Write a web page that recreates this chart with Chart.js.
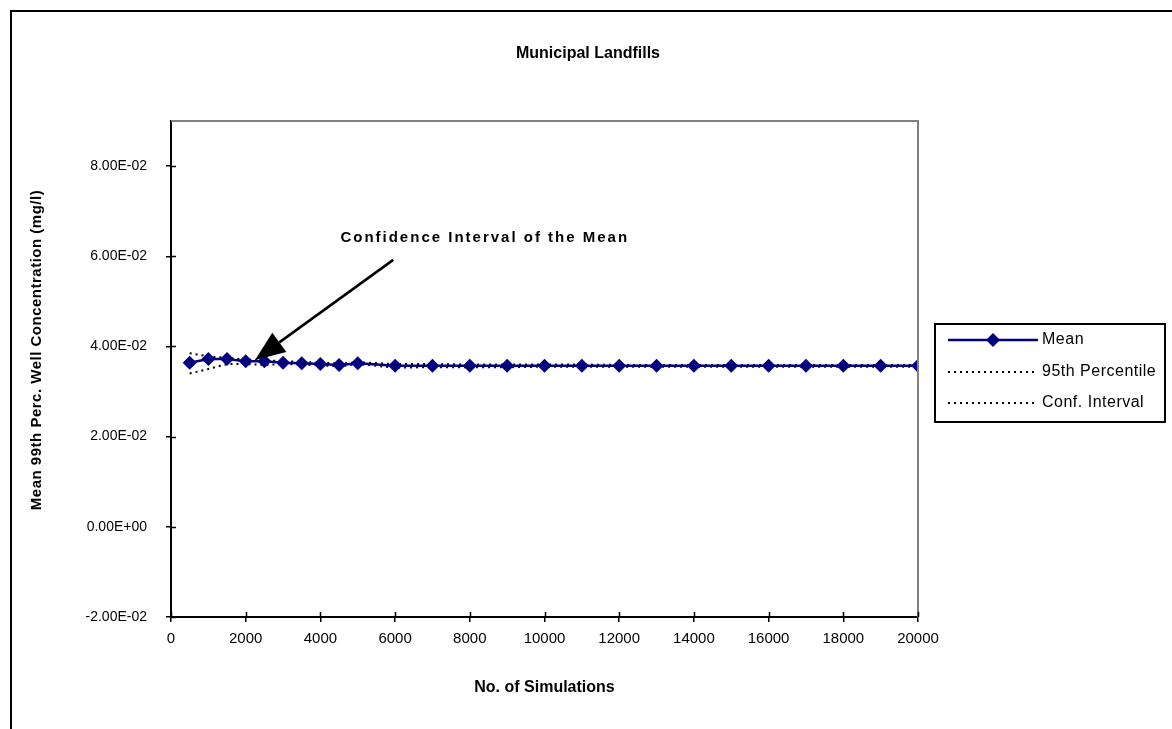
<!DOCTYPE html>
<html>
<head>
<meta charset="utf-8">
<script src="https://cdn.jsdelivr.net/npm/chart.js@4.4.0/dist/chart.umd.min.js"></script>
<style>
  html, body { margin: 0; padding: 0; background: #fff; }
  #wrap { position: relative; width: 1172px; height: 729px; }
</style>
</head>
<body>
<div id="wrap"><canvas id="myChart" width="1172" height="729"></canvas></div>
<script>
// data
const simulations = [500, 1000, 1500, 2000, 2500, 3000, 3500, 4000, 4500, 5000,
  6000, 7000, 8000, 9000, 10000, 11000, 12000, 13000, 14000, 15000, 16000, 17000, 18000, 19000, 20000];
const meanValues = [0.0364, 0.0372, 0.0372, 0.0367, 0.0367, 0.0364, 0.0363, 0.0361, 0.0359, 0.0363,
  0.0357, 0.0357, 0.0357, 0.0357, 0.0357, 0.0357, 0.0357, 0.0357, 0.0357, 0.0357, 0.0357, 0.0357, 0.0357, 0.0357, 0.0357];
const pct95Values = [0.0385, 0.0378, 0.0375, 0.0371, 0.0370, 0.0367, 0.0366, 0.0364, 0.0362, 0.0365,
  0.0361, 0.0361, 0.0360, 0.0360, 0.0360, 0.0360, 0.0359, 0.0359, 0.0359, 0.0359, 0.0359, 0.0359, 0.0359, 0.0359, 0.0359];
const confValues = [0.0340, 0.0350, 0.0361, 0.0361, 0.0359, 0.0361, 0.0360, 0.0358, 0.0356, 0.0361,
  0.0353, 0.0354, 0.0354, 0.0354, 0.0355, 0.0355, 0.0355, 0.0355, 0.0355, 0.0355, 0.0355, 0.0355, 0.0355, 0.0355, 0.0355];
const seriesNames = ['Mean', '95th Percentile', 'Conf. Interval'];
const yTickValues = [-0.02, 0, 0.02, 0.04, 0.06, 0.08];

const chartTitle = 'Municipal Landfills';
const xTitle = 'No. of Simulations';
const yTitle = 'Mean 99th Perc. Well Concentration (mg/l)';
const calloutText = 'Confidence Interval of the Mean';

const FONT = "'Liberation Sans', Arial, sans-serif";
Chart.defaults.font.family = FONT;
Chart.defaults.color = '#000';

function excelExp(v) {
  if (Math.abs(v) < 1e-9) return '0.00E+00';
  const parts = v.toExponential(2).split('e');
  const n = parseInt(parts[1], 10);
  return parts[0] + 'E' + (n < 0 ? '-' : '+') + String(Math.abs(n)).padStart(2, '0');
}

function toXY(xs, ys) {
  return xs.map((x, i) => ({ x: x, y: ys[i] }));
}

// title, axis title, frame, inner ticks, callout arrow, legend box
const decor = {
  id: 'decor',
  afterDraw(chart) {
    const ctx = chart.ctx;
    const a = chart.chartArea;
    const xs = chart.scales.x, ys = chart.scales.y;
    ctx.save();

    // outer frame
    ctx.strokeStyle = '#000';
    ctx.lineWidth = 2;
    ctx.beginPath();
    ctx.moveTo(11, 740); ctx.lineTo(11, 11); ctx.lineTo(1180, 11);
    ctx.stroke();

    // plot area border, top and right
    ctx.strokeStyle = '#808080';
    ctx.lineWidth = 2;
    ctx.beginPath();
    ctx.moveTo(a.left, a.top); ctx.lineTo(a.right, a.top); ctx.lineTo(a.right, a.bottom);
    ctx.stroke();

    // inner half of the tick marks
    ctx.strokeStyle = '#000';
    ctx.lineWidth = 1.5;
    ctx.beginPath();
    yTickValues.forEach(v => {
      const py = Math.round(ys.getPixelForValue(v)) + 0.5;
      ctx.moveTo(a.left, py); ctx.lineTo(a.left + 5, py);
    });
    xs.ticks.forEach(t => {
      const px = Math.round(xs.getPixelForValue(t.value)) + 0.5;
      ctx.moveTo(px, a.bottom); ctx.lineTo(px, a.bottom - 5);
    });
    ctx.stroke();

    // chart title
    ctx.fillStyle = '#000';
    ctx.textAlign = 'center';
    ctx.textBaseline = 'middle';
    ctx.font = 'bold 16px ' + FONT;
    ctx.fillText(chartTitle, 588, 54);

    // y axis title
    ctx.save();
    ctx.translate(37, 350);
    ctx.rotate(-Math.PI / 2);
    ctx.font = 'bold 15px ' + FONT;
    ctx.letterSpacing = '0.5px';
    ctx.fillText(yTitle, 0, 0);
    ctx.restore();

    // callout text and arrow
    ctx.save();
    ctx.font = 'bold 15px ' + FONT;
    ctx.letterSpacing = '2px';
    ctx.fillText(calloutText, xs.getPixelForValue(8400), ys.getPixelForValue(0.0641));
    ctx.restore();
    const x0 = xs.getPixelForValue(5950), y0 = ys.getPixelForValue(0.0592);
    const x1 = xs.getPixelForValue(2250), y1 = ys.getPixelForValue(0.0370);
    const ang = Math.atan2(y1 - y0, x1 - x0);
    const headLen = 30, headW = 12;
    const bx = x1 - headLen * Math.cos(ang), by = y1 - headLen * Math.sin(ang);
    ctx.strokeStyle = '#000';
    ctx.lineWidth = 2.5;
    ctx.beginPath();
    ctx.moveTo(x0, y0); ctx.lineTo(bx, by);
    ctx.stroke();
    ctx.beginPath();
    ctx.moveTo(x1, y1);
    ctx.lineTo(bx + headW * Math.sin(ang), by - headW * Math.cos(ang));
    ctx.lineTo(bx - headW * Math.sin(ang), by + headW * Math.cos(ang));
    ctx.closePath();
    ctx.fill();

    // legend
    ctx.lineWidth = 2;
    ctx.strokeStyle = '#000';
    ctx.strokeRect(935, 324, 230, 98);
    const rows = [340, 372, 403];
    ctx.textAlign = 'left';
    ctx.font = '16px ' + FONT;
    ctx.letterSpacing = '0.5px';
    chart.data.datasets.forEach((ds, i) => {
      const ry = rows[i];
      ctx.save();
      ctx.strokeStyle = ds.borderColor;
      ctx.lineWidth = ds.borderWidth;
      ctx.setLineDash(ds.borderDash || []);
      ctx.beginPath();
      ctx.moveTo(948, ry); ctx.lineTo(1038, ry);
      ctx.stroke();
      if (ds.pointRadius > 0) {
        ctx.fillStyle = ds.pointBackgroundColor;
        const r = ds.pointRadius;
        ctx.beginPath();
        ctx.moveTo(993, ry - r); ctx.lineTo(993 + r, ry); ctx.lineTo(993, ry + r); ctx.lineTo(993 - r, ry);
        ctx.closePath();
        ctx.fill();
      }
      ctx.restore();
      ctx.fillText(ds.label, 1042, ry);
    });
    ctx.restore();
  }
};

new Chart(document.getElementById('myChart'), {
  type: 'line',
  data: {
    datasets: [
      {
        label: seriesNames[0],
        data: toXY(simulations, meanValues),
        borderColor: '#000080',
        borderWidth: 2.5,
        pointStyle: 'rectRot',
        pointRadius: 7,
        pointBackgroundColor: '#000080',
        pointBorderWidth: 0,
        tension: 0
      },
      {
        label: seriesNames[1],
        data: toXY(simulations, pct95Values),
        borderColor: '#000',
        borderWidth: 2,
        borderDash: [2, 4],
        pointRadius: 0,
        tension: 0
      },
      {
        label: seriesNames[2],
        data: toXY(simulations, confValues),
        borderColor: '#000',
        borderWidth: 2,
        borderDash: [2, 4],
        pointRadius: 0,
        tension: 0
      }
    ]
  },
  options: {
    responsive: false,
    animation: false,
    layout: { padding: { left: 0, right: 254, top: 121, bottom: 0 } },
    plugins: {
      legend: { display: false },
      tooltip: { enabled: false }
    },
    scales: {
      x: {
        type: 'linear',
        min: 0,
        max: 20000,
        ticks: { stepSize: 2000, autoSkip: false, maxRotation: 0, padding: 8, font: { size: 15 }, callback: v => String(v) },
        grid: { drawOnChartArea: false, tickLength: 5, color: '#000', lineWidth: 1.5 },
        border: { color: '#000', width: 2 },
        title: { display: true, text: xTitle, font: { size: 16, weight: 'bold' }, padding: { top: 0, bottom: 32 } },
        afterFit(s) { s.height = 112; }
      },
      y: {
        min: -0.02,
        max: 0.09,
        ticks: { stepSize: 0.02, padding: 19, font: { size: 14 }, callback: v => excelExp(v) },
        afterBuildTicks(s) { s.ticks = yTickValues.map(v => ({ value: v })); },
        grid: { drawOnChartArea: false, tickLength: 5, color: '#000', lineWidth: 1.5 },
        border: { color: '#000', width: 2 },
        afterFit(s) { s.width = 171; }
      }
    }
  },
  plugins: [decor]
});
</script>
</body>
</html>
